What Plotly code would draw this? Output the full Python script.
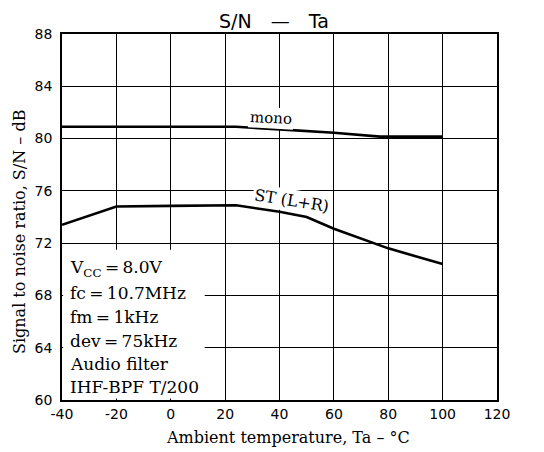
import plotly.graph_objects as go

# Data
mono_temp = [-40, -20, 0, 24, 40, 60, 77, 100]
mono_sn = [80.9, 80.9, 80.9, 80.9, 80.7, 80.45, 80.15, 80.15]

st_temp = [-40, -20, 0, 24, 40, 50, 60, 80, 100]
st_sn = [73.4, 74.8, 74.85, 74.9, 74.4, 74.0, 73.1, 71.6, 70.4]

x_ticks = [-40, -20, 0, 20, 40, 60, 80, 100, 120]
y_ticks = [60, 64, 68, 72, 76, 80, 84, 88]

cond_lines = ["V<sub>CC</sub>\u2009=\u20098.0V", "fc\u2009=\u200910.7MHz", "fm\u2009=\u20091kHz",
              "dev\u2009=\u200975kHz", "Audio filter", "IHF-BPF T/200"]

SERIF = "DejaVu Serif"
SANS = "DejaVu Sans"

fig = go.Figure()
fig.add_trace(go.Scatter(x=mono_temp, y=mono_sn, mode="lines",
                         line=dict(color="black", width=2.6), showlegend=False))
fig.add_trace(go.Scatter(x=st_temp, y=st_sn, mode="lines",
                         line=dict(color="black", width=2.6), showlegend=False))

OFF = 8  # page body margin
W, H = 544 - OFF, 452 - OFF
L, T = 62 - OFF, 34 - OFF
pw, ph = 435, 366
R, B = W - L - pw, H - T - ph

def px(p):
    # p: pixel x in the final screenshot
    return (p - 62) / pw

def py(q):
    return (400 - q) / ph

fig.update_layout(
    width=W, height=H,
    margin=dict(l=L, r=R, t=T, b=B, autoexpand=False),
    plot_bgcolor="white", paper_bgcolor="white",
    showlegend=False,
    xaxis=dict(range=[-40, 120], tickvals=x_ticks, ticktext=[str(v) for v in x_ticks],
               showgrid=True, gridcolor="black", gridwidth=1,
               showline=True, linecolor="black", linewidth=1.5, mirror=True,
               zeroline=False, ticks="", ticklabelstandoff=0, automargin=False,
               tickfont=dict(family=SANS, size=14, color="black")),
    yaxis=dict(range=[60, 88], tickvals=y_ticks, ticktext=[str(v) for v in y_ticks],
               showgrid=True, gridcolor="black", gridwidth=1,
               showline=True, linecolor="black", linewidth=1.5, mirror=True,
               zeroline=False, ticks="", ticklabelstandoff=5, automargin=False,
               tickfont=dict(family=SANS, size=14, color="black")),
)

# white box for the conditions text (covers grid)
fig.add_shape(type="rect", xref="x", yref="y", x0=-39.6, x1=12.5, y0=60.12, y1=71.5,
              fillcolor="white", line=dict(width=0), layer="above")

def A(text, x, y, size, family=SERIF, **kw):
    d = dict(text=text, xref="paper", yref="paper", x=px(x), y=py(y),
             xanchor="center", yanchor="middle", showarrow=False,
             font=dict(family=family, size=size, color="black"))
    d.update(kw)
    return d

ann = []
ann.append(A("S/N\u2003\u2014\u2003Ta", 274, 21, 19, family=SANS))
ann.append(A("Ambient temperature, Ta \u2013 \u00b0C", 288, 437, 16))
ann.append(A("Signal to noise ratio, S/N \u2013 dB", 20, 232, 16, textangle=-90))
ann.append(A("mono", 271, 118, 15, textangle=3, bgcolor="white", borderpad=1))
ann.append(A("ST (L+R)", 291, 201, 16, textangle=9, bgcolor="white", borderpad=1))
ys = [268, 293, 317, 341, 364, 387]
for t, yy in zip(cond_lines, ys):
    ann.append(A(t, 68, yy, 17, xanchor="left"))
fig.update_layout(annotations=ann)

fig.write_html("out.html")
